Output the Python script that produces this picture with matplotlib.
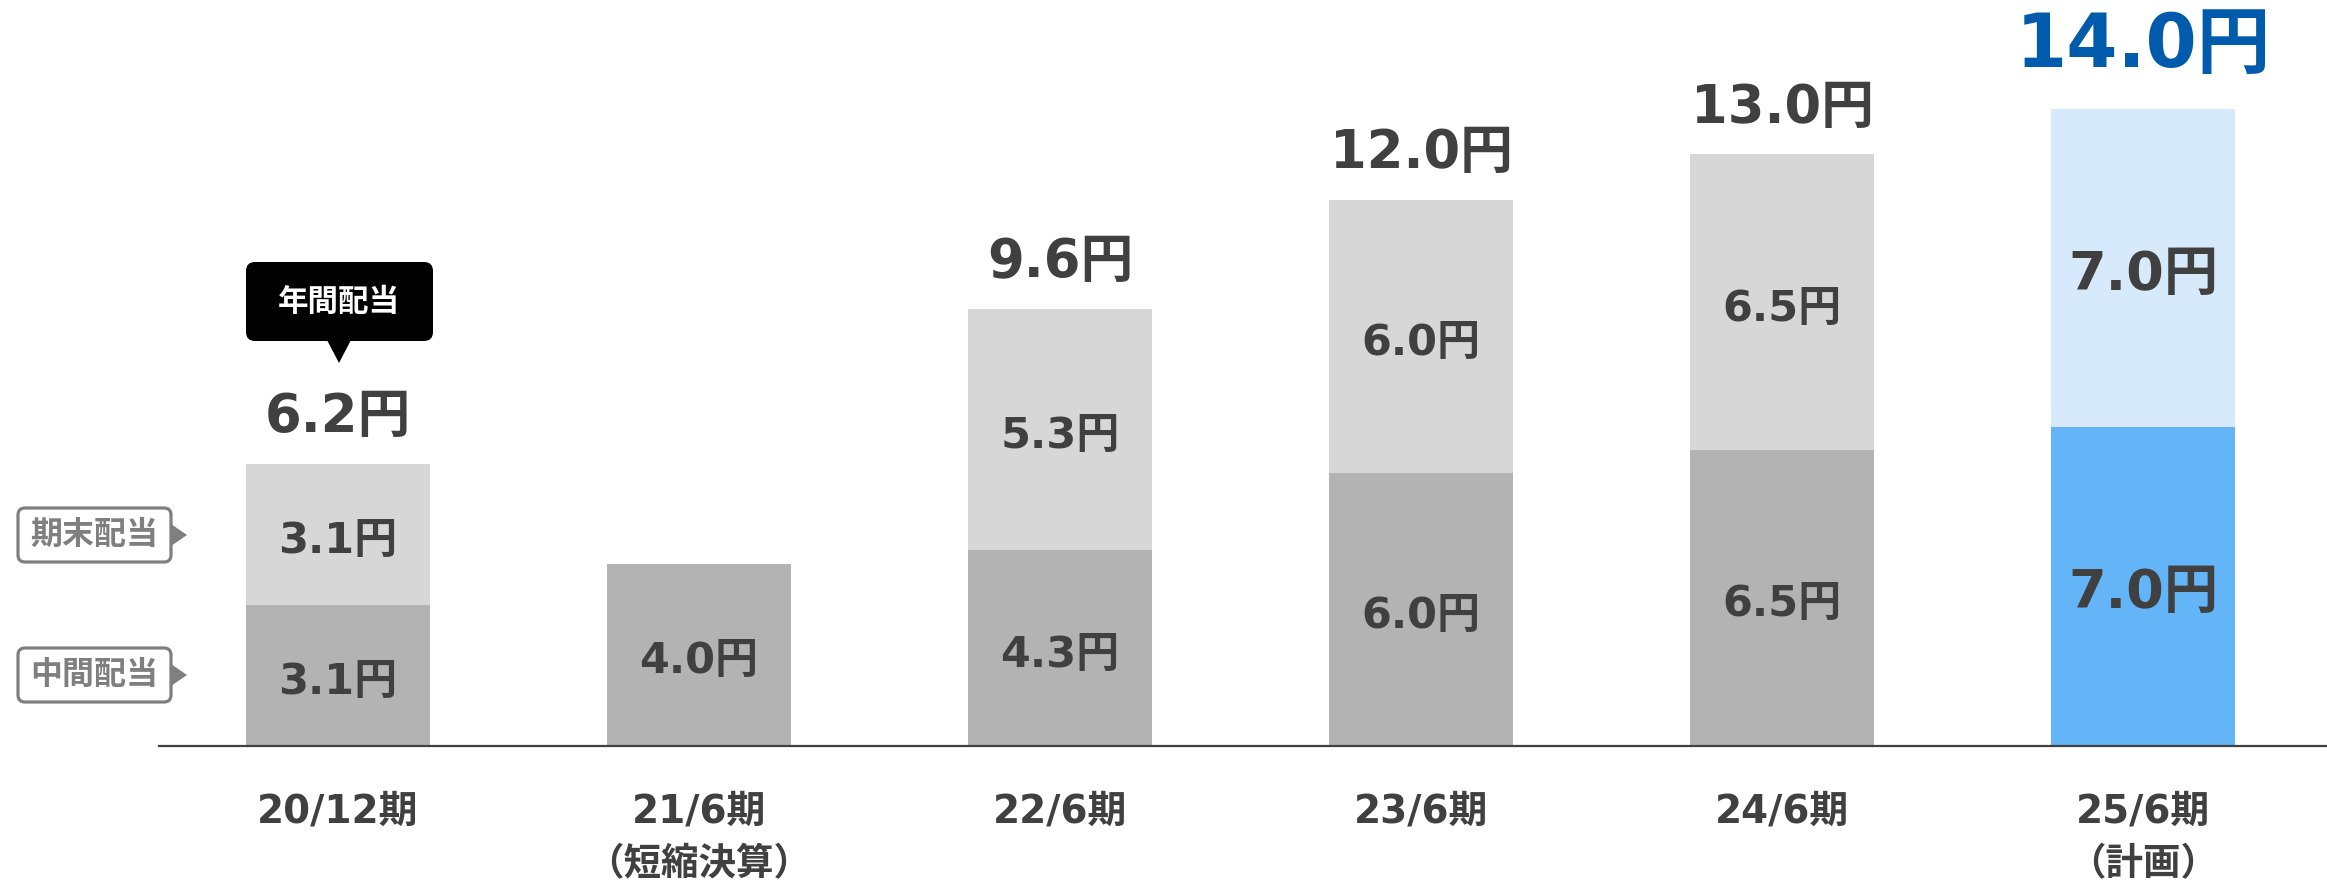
import matplotlib
matplotlib.use('Agg')
import matplotlib.pyplot as plt
from matplotlib.patches import FancyBboxPatch, Polygon
import numpy as np

plt.rcParams['font.family'] = ['DejaVu Sans', 'Noto Sans CJK JP']

periods = ['20/12期', '21/6期', '22/6期', '23/6期', '24/6期', '25/6期']
period_notes = ['', '（短縮決算）', '', '', '', '（計画）']
interim = [3.1, 4.0, 4.3, 6.0, 6.5, 7.0]
year_end = [3.1, 0.0, 5.3, 6.0, 6.5, 7.0]
totals = [6.2, 4.0, 9.6, 12.0, 13.0, 14.0]

DARK = '#404040'
grey_low = ['#b3b3b3'] * 5 + ['#63b5f8']
grey_high = ['#d7d7d7'] * 5 + ['#d6eafc']

W, H = 2327, 886
fig = plt.figure(figsize=(W / 100, H / 100), dpi=100)
ax = fig.add_axes([0, 0, 1, 1])

# 45.5 px per yen, 361 px between bars, baseline at y=746px
ppu = 45.5
ax.set_ylim(-(H - 746) / ppu, 746 / ppu)
ax.set_xlim(-338 / 361, (W - 338) / 361)
ax.axis('off')

x = np.arange(len(periods))
bw = 0.512
ax.bar(x, interim, width=bw, color=grey_low, zorder=2)
ax.bar(x, year_end, width=bw, bottom=interim, color=grey_high, zorder=2)
ax.plot([-0.496, 10], [0, 0], color=DARK, lw=1.6, zorder=3)

dy = 0.14  # nudge inner labels down a touch
for i in range(len(x)):
    big = i == len(x) - 1
    fs = 39 if big else 31
    ax.text(x[i], interim[i] / 2 - dy, f'{interim[i]:.1f}円', ha='center', va='center',
            fontsize=fs, fontweight='bold', color=DARK, zorder=4)
    if year_end[i] > 0:
        ax.text(x[i], interim[i] + year_end[i] / 2 - dy, f'{year_end[i]:.1f}円', ha='center',
                va='center', fontsize=fs, fontweight='bold', color=DARK, zorder=4)
        if big:
            ax.text(x[i], totals[i] + 0.92, f'{totals[i]:.1f}円', ha='center', va='baseline',
                    fontsize=53, fontweight='bold', color='#005bac')
        else:
            ax.text(x[i], totals[i] + 0.70, f'{totals[i]:.1f}円', ha='center', va='baseline',
                    fontsize=38, fontweight='bold', color=DARK)
    ax.text(x[i], -(822 - 746) / ppu, periods[i], ha='center', va='baseline',
            fontsize=28, fontweight='bold', color=DARK)
    if period_notes[i]:
        ax.text(x[i], -(865 - 746) / ppu, period_notes[i], ha='center', va='center',
                fontsize=27, fontweight='bold', color=DARK)

# overlay in pixel coordinates for the callouts
ov = fig.add_axes([0, 0, 1, 1], zorder=5)
ov.set_xlim(0, W)
ov.set_ylim(H, 0)
ov.axis('off')
ov.patch.set_alpha(0)

# 年間配当 callout
ov.add_patch(FancyBboxPatch((246, 262), 187, 79, boxstyle='round,pad=0,rounding_size=9',
                            fc='black', ec='none'))
ov.add_patch(Polygon([(327, 340), (351, 340), (339, 363)], closed=True, fc='black', ec='none'))
ov.text(339, 302, '年間配当', ha='center', va='center', fontsize=22, fontweight='bold',
        color='white', family=['Noto Sans CJK JP'])

# series tags
for label, yc in [('期末配当', 535), ('中間配当', 675)]:
    ov.add_patch(FancyBboxPatch((18, yc - 27), 153, 54, boxstyle='round,pad=0,rounding_size=7',
                                fc='white', ec='#7f7f7f', lw=2.3))
    ov.add_patch(Polygon([(171, yc - 11), (187, yc), (171, yc + 11)], closed=True,
                         fc='#7f7f7f', ec='none'))
    ov.text(94, yc, label, ha='center', va='center', fontsize=23, fontweight='bold',
            color='#7f7f7f', family=['Noto Sans CJK JP'])

fig.savefig('out.png', dpi=100)
